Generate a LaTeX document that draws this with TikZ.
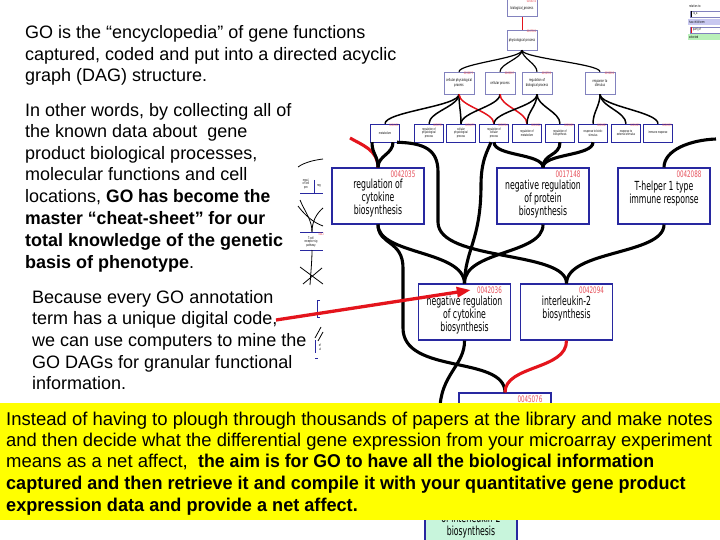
\documentclass[tikz,border=0pt]{standalone}
\usepackage{fontspec}
\setmainfont{Liberation Sans}
\newfontfamily\dagfont[FakeStretch=0.62]{DejaVu Sans}
\usetikzlibrary{arrows.meta}
\definecolor{navy}{RGB}{40,40,160}
\definecolor{idred}{RGB}{230,80,90}
\definecolor{lightbd}{RGB}{130,130,190}
\definecolor{mint}{RGB}{200,245,220}
\definecolor{arrred}{RGB}{228,20,28}
\definecolor{yel}{RGB}{255,255,0}
\definecolor{lav}{RGB}{200,200,240}
\definecolor{lgreen}{RGB}{185,240,185}
\begin{document}
\begin{tikzpicture}[x=1pt,y=-1pt,
  txt/.style={font=\fontsize{18}{21.6}\selectfont, anchor=base west, inner sep=0pt},
  ytxt/.style={font=\fontsize{18.5}{21.6}\selectfont, anchor=base west, inner sep=0pt},
  bigbox/.style={draw=navy, line width=1.1pt, fill=white, minimum width=92pt, minimum height=56pt, inner sep=0pt},
  blab/.style={font=\dagfont\fontsize{12.5}{13}\selectfont, align=center, inner sep=0pt, anchor=north},
  bid/.style={font=\dagfont\fontsize{9}{9}\selectfont, text=idred, inner sep=0pt, anchor=north east},
  sbox/.style={draw=lightbd, line width=0.5pt, fill=white, minimum width=30pt, minimum height=18pt, inner sep=0pt,
    font=\dagfont\fontsize{4}{4.3}\selectfont, align=center},
  sid/.style={font=\dagfont\fontsize{3.3}{3.3}\selectfont, text=idred, inner sep=0pt, anchor=north east},
  stxt/.style={font=\dagfont\fontsize{3.5}{3.8}\selectfont, align=center, inner sep=0pt},
  medge/.style={draw=black, line width=3.1pt},
  redge/.style={draw=arrred, line width=3.1pt},
  tedge/.style={draw=black, line width=1.5pt},
  tredge/.style={draw=arrred, line width=1.5pt},
  frag/.style={draw=black, line width=0.8pt},
  fragbox/.style={draw=navy, line width=0.6pt},
  sc/.style={to path={.. controls ([yshift=-#1]\tikztostart) and ([yshift=#1]\tikztotarget) .. (\tikztotarget)}}
]
\useasboundingbox (0,0) rectangle (720,540);
\fill[white] (0,0) rectangle (720,540);

% ---------- small upper DAG ----------
\node[sbox, minimum height=17pt] (N1) at (522,8) {biological\_process};
\node[sid] (N1i) at ([xshift=-1pt,yshift=-0.5pt]N1.north east) {0008150};
\node[sbox, minimum height=20pt] (N2) at (522,40) {physiological process};
\node[sid] (N2i) at ([xshift=-1pt,yshift=-0.5pt]N2.north east) {0007582};
\draw[arrred, line width=1pt] (N1.south) -- (N2.north);

\foreach \n/\x/\t/\i in {L31/459/cellular physiological\\process/0050875,
                         L32/500/cellular process/0009987,
                         L33/537/regulation of\\biological process/0050789,
                         L34/600/response to\\stimulus/0050896}{
  \node[sbox, minimum height=22pt] (\n) at (\x,83) {\t};
  \node[sid] (\n i) at ([xshift=-1pt,yshift=-0.5pt]\n.north east) {\i};
}
\foreach \n/\x/\t/\i in {L41/385/metabolism/0008152,
                         L42/429/regulation of\\physiological\\process/0050791,
                         L43/461/cellular\\physiological\\process/0050875,
                         L44/494/regulation of\\cellular\\process/0050794,
                         L45/527/regulation of\\metabolism/0019222,
                         L46/560/regulation of\\biosynthesis/0009889,
                         L47/593/response to biotic\\stimulus/0009607,
                         L48/626/response to\\external stimulus/0009605,
                         L49/658/immune response/0006955}{
  \node[sbox, draw=navy, minimum width=29pt, font=\dagfont\fontsize{3.4}{3.6}\selectfont] (\n) at (\x,133) {\t};
  \node[sid] (\n i) at ([xshift=-1pt,yshift=-0.5pt]\n.north east) {\i};
}
\foreach \t in {L31,L32,L33,L34}{
  \draw[black, line width=1.2pt] (N2.south) to[sc=8pt] (\t.north);
}
\draw[tedge] (L31.south) to[sc=12pt] (L41.north);
\draw[tedge] (L31.south) to[sc=12pt] (L42.north);
\draw[tedge] (L31.south) to[sc=12pt] (L43.north);
\draw[tredge] (L31.south) to[sc=12pt] (L44.north);
\draw[tedge] (L32.south) to[sc=12pt] (L43.north);
\draw[tredge] (L32.south) to[sc=12pt] (L45.north);
\draw[tedge] (L33.south) to[sc=12pt] (L44.north);
\draw[tedge] (L33.south) to[sc=12pt] (L45.north);
\draw[tedge] (L33.south) to[sc=12pt] (L46.north);
\draw[tedge] (L34.south) to[sc=12pt] (L47.north);
\draw[tedge] (L34.south) to[sc=12pt] (L48.north);
\draw[tedge] (L34.south) to[sc=12pt] (L49.north);

% ---------- big nodes ----------
\node[bigbox] (A) at (378,196) {};
\node[blab] (Al) at ([yshift=-11.5pt]A.north) {regulation of\\cytokine\\biosynthesis};
\node[bid] (Ai) at ([xshift=-9pt,yshift=-3.5pt]A.north east) {0042035};
\node[bigbox] (B) at (543,196) {};
\node[blab] (Bl) at ([yshift=-12pt]B.north) {negative regulation\\of protein\\biosynthesis};
\node[bid] (Bi) at ([xshift=-9pt,yshift=-3pt]B.north east) {0017148};
\node[bigbox] (C) at (664,196) {};
\node[blab] (Cl) at ([yshift=-13pt]C.north) {T-helper 1 type\\immune response};
\node[bid] (Ci) at ([xshift=-9pt,yshift=-3.5pt]C.north east) {0042088};
\node[bigbox] (D) at (464.5,312) {};
\node[blab] (Dl) at ([yshift=-12pt]D.north) {negative regulation\\of cytokine\\biosynthesis};
\node[bid] (Di) at ([xshift=-9pt,yshift=-3pt]D.north east) {0042036};
\node[bigbox] (E) at (566.5,312) {};
\node[blab] (El) at ([yshift=-12pt]E.north) {interleukin-2\\biosynthesis};
\node[bid] (Ei) at ([xshift=-9pt,yshift=-3pt]E.north east) {0042094};
\node[bigbox] (F) at (505,421) {};
\node[bid] (Fi) at ([xshift=-9pt,yshift=-3.5pt]F.north east) {0045076};
\node[bigbox, fill=mint, minimum height=62pt] (G) at (471,520) {};
\node[blab] (Gl) at ([yshift=-24pt]G.north) {of interleukin-2\\biosynthesis};

% ---------- main connectors ----------
\coordinate (hl) at (350,138);
\coordinate (hr) at (716,139);
\draw[redge] (hl) .. controls (362,145) and (378,150) .. (A.north);
\draw[medge] ([xshift=-13pt]L41.south) to[sc=12pt] (A.north);
\draw[medge] ([xshift=8pt]L41.south) to[sc=12pt] (A.north);
\draw[medge] ([xshift=12pt]L41.south) .. controls (425,143) and (438,150) .. (438,172) -- (438,222)
   .. controls (438,262) and (567,250) .. (E.north);
\draw[medge] ([xshift=-3pt]L44.south) .. controls (488,150) and (481,160) .. (481,185)
   .. controls (481,240) and (465,250) .. (D.north);
\draw[medge] (L44.south) to[sc=14pt] (B.north);
\draw[medge] (L46.south) to[sc=14pt] (B.north);
\draw[medge] (L47.south) to[sc=14pt] (B.north);
\draw[medge] (C.north) .. controls (664,150) and (690,140) .. (hr);
\draw[medge] (A.south) .. controls (378,255) and (464,250) .. (D.north);
\draw[medge] (A.south) .. controls (378,245) and (403,240) .. (403,268) -- (403,328)
   .. controls (403,375) and (505,355) .. (F.north);
\draw[medge] (B.south) .. controls (543,255) and (464,250) .. (D.north);
\draw[medge] (C.south) .. controls (664,255) and (567,250) .. (E.north);
\draw[redge] (E.south) .. controls (567,370) and (505,365) .. (F.north);
\draw[medge] (D.south) .. controls (465,365) and (440,375) .. (440,410)
   .. controls (440,460) and (471,455) .. (G.north);
\draw[medge] (F.south) to[sc=15pt] (G.north);

% ---------- fragments at left ----------
\draw[frag] (298,167) .. controls (305,162) and (315,160) .. (323,159);
\draw[fragbox] (300,193) -- (323,193);
\draw[fragbox] (314,180) -- (314,193);
\node[stxt] (fr1) at (306,184) {regul.\\of cell\\pro};
\node[stxt] (fr2) at (319,186) {reg};
\draw[frag] (300,200) .. controls (305,212) and (312,220) .. (312,232);
\draw[frag] (323,208) .. controls (316,214) and (312,222) .. (312,232);
\draw[frag] (298,206) .. controls (304,214) and (312,222) .. (323,226);
\draw[fragbox] (300,232) -- (323,232);
\draw[fragbox] (300,250) -- (323,250);
\node[sid] (fr3) at (324,233) {0042};
\node[stxt] (fr4) at (311,242) {T-cell\\receptor sig\\pathway};
\draw[frag] (312,250) .. controls (312,260) and (311,270) .. (310,285);
\draw[frag] (300,267) -- (323,284);
\draw[frag] (303,284) -- (322,268);
\draw[fragbox] (320,300) -- (317,300) -- (317,317) -- (320,317);
\draw[frag] (315,338) -- (321,327);
\draw[frag] (318,341) -- (323,332);
\draw[fragbox] (315,340) -- (315,353);
\draw[fragbox] (315,358) -- (318,358);
\node[stxt] (fr5) at (320,347) {of\\ul};

% ---------- legend ----------
\node[stxt, anchor=west] (lg0) at (689,6) {relation to:};
\draw[draw=lightbd, line width=0.4pt] (690,11) rectangle (720,17);
\draw[black, line width=0.8pt] (691,11) -- (691,17);
\node[stxt, anchor=west] (lg1) at (693,14) {is\_a};
\fill[lav] (688,19) rectangle (720,25);
\node[stxt, anchor=west] (lg2) at (689,22) {has child term};
\draw[draw=lightbd, line width=0.4pt] (690,27) rectangle (720,33);
\draw[arrred, line width=0.8pt] (691,27) -- (691,33);
\node[stxt, anchor=west] (lg3) at (693,30) {part\_of};
\fill[lgreen] (688,34) rectangle (720,40);
\node[stxt, anchor=west] (lg4) at (689,37) {selected};

% ---------- text ----------
\node[txt] (t1) at (25,39) {GO is the “encyclopedia” of gene functions};
\node[txt] (t2) at (25,61) {captured, coded and put into a directed acyclic};
\node[txt] (t3) at (25,82) {graph (DAG) structure.};

\node[txt] (u1) at (25,117) {In other words, by collecting all of};
\node[txt] (u2) at (25,138) {the known data about\ \ gene};
\node[txt] (u3) at (25,160) {product biological processes,};
\node[txt] (u4) at (25,181) {molecular functions and cell};
\node[txt] (u5) at (25,203) {locations, \scalebox{0.97}[1]{\textbf{GO has become the}}};
\node[txt] (u6) at (25,225) {\scalebox{0.98}[1]{\textbf{master “cheat-sheet” for our}}};
\node[txt] (u7) at (25,247) {\textbf{total knowledge of the genetic}};
\node[txt] (u8) at (25,268) {\textbf{basis of phenotype}.};

\node[txt] (v1) at (32,303) {Because every GO annotation};
\node[txt] (v2) at (32,324) {term has a unique digital code,};
\node[txt] (v3) at (32,346) {we can use computers to mine the};
\node[txt] (v4) at (32,368) {GO DAGs for granular functional};
\node[txt] (v5) at (32,389) {information.};

\coordinate (arrS) at (276,320);
\draw[arrred, line width=3.3pt, -{Triangle[length=14pt,width=10pt]}] (arrS) -- ([xshift=-6pt]Di.west);

% ---------- yellow box ----------
\fill[yel] (0,403) rectangle (720,520);
\node[ytxt] (y1) at (6,425) {Instead of having to plough through thousands of papers at the library and make notes};
\node[ytxt] (y2) at (6,446) {\scalebox{0.994}[1]{and then decide what the differential gene expression from your microarray experiment}};
\node[ytxt] (y3) at (6,467) {means as a net affect,\ \ \scalebox{0.958}[1]{\textbf{the aim is for GO to have all the biological information}}};
\node[ytxt] (y4) at (6,489) {\scalebox{0.975}[1]{\textbf{captured and then retrieve it and compile it with your quantitative gene product}}};
\node[ytxt] (y5) at (6,511) {\scalebox{0.98}[1]{\textbf{expression data and provide a net affect.}}};
\end{tikzpicture}
\end{document}
